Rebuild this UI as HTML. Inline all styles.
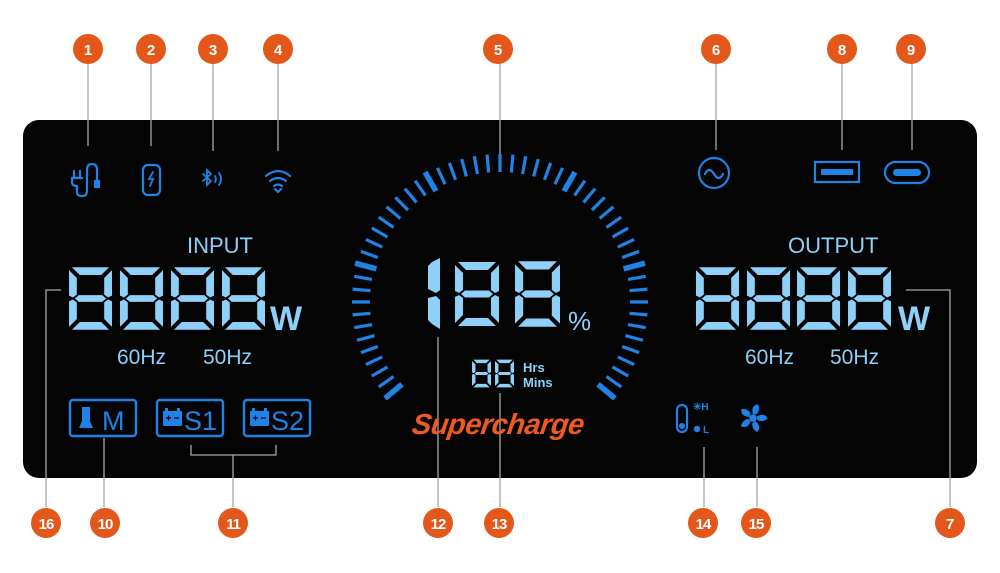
<!DOCTYPE html>
<html><head><meta charset="utf-8"><style>
html,body{margin:0;padding:0;background:#fff;}
svg{display:block}
text{font-family:"Liberation Sans",sans-serif;}
</style></head><body>
<svg width="1000" height="573" viewBox="0 0 1000 573" xmlns="http://www.w3.org/2000/svg">
<defs>
<symbol id="d8" viewBox="0 0 44 64">
<g fill="#8fd0f8">
<polygon points="3,0 41,0 33,8 11,8"/>
<polygon points="0,3 8,11 8,28 4,31 0,29"/>
<polygon points="44,3 36,11 36,28 40,31 44,29"/>
<polygon points="6,32 10,28.5 34,28.5 38,32 34,35.5 10,35.5"/>
<polygon points="0,35 4,33 8,36 8,53 0,61"/>
<polygon points="44,35 40,33 36,36 36,53 44,61"/>
<polygon points="3,64 41,64 33,56 11,56"/>
</g>
</symbol>
<line id="tk" x1="500" y1="154" x2="500" y2="172" stroke="#1f82e6" stroke-width="3.2"/>
<line id="tkb" x1="500" y1="152" x2="500" y2="174" stroke="#1f82e6" stroke-width="5.5"/>
</defs>

<rect x="23" y="120" width="954" height="358" rx="16" fill="#050404"/>

<g stroke="#a8a8a8" stroke-width="1.3" fill="none">
<line x1="88" y1="62" x2="88" y2="146"/>
<line x1="151" y1="62" x2="151" y2="146"/>
<line x1="213" y1="62" x2="213" y2="151"/>
<line x1="278" y1="62" x2="278" y2="151"/>
<line x1="500" y1="62" x2="500" y2="156"/>
<line x1="716" y1="62" x2="716" y2="150"/>
<line x1="842" y1="62" x2="842" y2="150"/>
<line x1="912" y1="62" x2="912" y2="150"/>
<polyline points="61,290 46,290 46,507"/>
<line x1="104" y1="438" x2="104" y2="507"/>
<polyline points="191,445 191,455 276,455 276,445"/>
<line x1="233" y1="455" x2="233" y2="507"/>
<line x1="438" y1="337" x2="438" y2="507"/>
<line x1="500" y1="393" x2="500" y2="507"/>
<line x1="704" y1="447" x2="704" y2="507"/>
<line x1="757" y1="447" x2="757" y2="507"/>
<polyline points="906,290 950,290 950,507"/>
</g>

<g fill="#e4571b">
<circle cx="88" cy="49" r="15"/><circle cx="151" cy="49" r="15"/><circle cx="213" cy="49" r="15"/><circle cx="278" cy="49" r="15"/>
<circle cx="498" cy="49" r="15"/><circle cx="716" cy="49" r="15"/><circle cx="842" cy="49" r="15"/><circle cx="911" cy="49" r="15"/>
<circle cx="46" cy="523" r="15"/><circle cx="105" cy="523" r="15"/><circle cx="233" cy="523" r="15"/><circle cx="438" cy="523" r="15"/>
<circle cx="499" cy="523" r="15"/><circle cx="703" cy="523" r="15"/><circle cx="756" cy="523" r="15"/><circle cx="950" cy="523" r="15"/>
</g>
<g fill="#fff" font-weight="bold" font-size="15" text-anchor="middle">
<text x="88" y="55">1</text><text x="151" y="55">2</text><text x="213" y="55">3</text><text x="278" y="55">4</text>
<text x="498" y="55">5</text><text x="716" y="55">6</text><text x="842" y="55">8</text><text x="911" y="55">9</text>
<text x="46" y="529" letter-spacing="-1">16</text><text x="105" y="529" letter-spacing="-1">10</text><text x="233" y="529" letter-spacing="-1">11</text><text x="438" y="529" letter-spacing="-1">12</text>
<text x="499" y="529" letter-spacing="-1">13</text><text x="703" y="529" letter-spacing="-1">14</text><text x="756" y="529" letter-spacing="-1">15</text><text x="950" y="529">7</text>
</g>

<g stroke="#1f82e6" stroke-width="2.2" fill="none" stroke-linecap="round">
<path d="M72,178 h10 M74,171 v6 M80,171 v6 M72,178 v4 q0,4 5,4 M77,186 v6 q0,4 4,4 h2 q4,0 4,-6 v-20 q0,-6 5,-6 q5,0 5,6 v10"/>
<rect x="95" y="181" width="4" height="6" fill="#1f82e6"/>
<rect x="143" y="165" width="17" height="30" rx="5"/>
<path d="M153,172 l-4,7 h4 l-3,7" stroke-width="1.8"/>
<path d="M203,174 l8,7 -4,4 v-15 l4,4 -8,7" stroke-width="1.8"/>
<path d="M215,176 q2,3 0,6 M219,173 q4,6 0,12" stroke-width="1.8"/>
<path d="M266,176 q12,-10 24,0 M270,181 q8,-6 16,0 M274,186 q4,-3 8,0"/>
<path d="M275,189 l3,3 3,-3"/>
<circle cx="714" cy="173" r="15"/>
<path d="M705,174 q4,-8 9,0 q5,8 9,0"/>
<rect x="815" y="162" width="44" height="20"/>
<rect x="821" y="169" width="32" height="6" fill="#1f82e6" stroke="none"/>
<rect x="885" y="162" width="44" height="21" rx="10.5"/>
<rect x="893" y="169" width="28" height="7" rx="3.5" fill="#1f82e6" stroke="none"/>
</g>

<g>
<use href="#tkb" transform="rotate(-130 500 302)"/><use href="#tk" transform="rotate(-125 500 302)"/><use href="#tk" transform="rotate(-120 500 302)"/><use href="#tk" transform="rotate(-115 500 302)"/><use href="#tk" transform="rotate(-110 500 302)"/><use href="#tk" transform="rotate(-105 500 302)"/><use href="#tk" transform="rotate(-100 500 302)"/><use href="#tk" transform="rotate(-95 500 302)"/><use href="#tk" transform="rotate(-90 500 302)"/><use href="#tk" transform="rotate(-85 500 302)"/><use href="#tk" transform="rotate(-80 500 302)"/><use href="#tkb" transform="rotate(-75 500 302)"/><use href="#tk" transform="rotate(-70 500 302)"/><use href="#tk" transform="rotate(-65 500 302)"/><use href="#tk" transform="rotate(-60 500 302)"/><use href="#tk" transform="rotate(-55 500 302)"/><use href="#tk" transform="rotate(-50 500 302)"/><use href="#tk" transform="rotate(-45 500 302)"/><use href="#tk" transform="rotate(-40 500 302)"/><use href="#tk" transform="rotate(-35 500 302)"/><use href="#tkb" transform="rotate(-30 500 302)"/><use href="#tk" transform="rotate(-25 500 302)"/><use href="#tk" transform="rotate(-20 500 302)"/><use href="#tk" transform="rotate(-15 500 302)"/><use href="#tk" transform="rotate(-10 500 302)"/><use href="#tk" transform="rotate(-5 500 302)"/><use href="#tk" transform="rotate(0 500 302)"/>
<use href="#tk" transform="rotate(5 500 302)"/><use href="#tk" transform="rotate(10 500 302)"/><use href="#tk" transform="rotate(15 500 302)"/><use href="#tk" transform="rotate(20 500 302)"/><use href="#tk" transform="rotate(25 500 302)"/><use href="#tkb" transform="rotate(30 500 302)"/><use href="#tk" transform="rotate(35 500 302)"/><use href="#tk" transform="rotate(40 500 302)"/><use href="#tk" transform="rotate(45 500 302)"/><use href="#tk" transform="rotate(50 500 302)"/><use href="#tk" transform="rotate(55 500 302)"/><use href="#tk" transform="rotate(60 500 302)"/><use href="#tk" transform="rotate(65 500 302)"/><use href="#tk" transform="rotate(70 500 302)"/><use href="#tkb" transform="rotate(75 500 302)"/><use href="#tk" transform="rotate(80 500 302)"/><use href="#tk" transform="rotate(85 500 302)"/><use href="#tk" transform="rotate(90 500 302)"/><use href="#tk" transform="rotate(95 500 302)"/><use href="#tk" transform="rotate(100 500 302)"/><use href="#tk" transform="rotate(105 500 302)"/><use href="#tk" transform="rotate(110 500 302)"/><use href="#tk" transform="rotate(115 500 302)"/><use href="#tk" transform="rotate(120 500 302)"/><use href="#tk" transform="rotate(125 500 302)"/><use href="#tkb" transform="rotate(130 500 302)"/>
</g>

<text x="187" y="253" fill="#8fd0f8" font-size="22">INPUT</text>
<use href="#d8" x="69" y="267" width="43" height="63"/>
<use href="#d8" x="120" y="267" width="43" height="63"/>
<use href="#d8" x="171" y="267" width="43" height="63"/>
<use href="#d8" x="222" y="267" width="43" height="63"/>
<text x="270" y="330" fill="#8fd0f8" font-size="34" font-weight="bold">W</text>
<text x="117" y="364" fill="#8fd0f8" font-size="21">60Hz</text>
<text x="203" y="364" fill="#8fd0f8" font-size="21">50Hz</text>

<text x="788" y="253" fill="#8fd0f8" font-size="22">OUTPUT</text>
<use href="#d8" x="696" y="267" width="43" height="63"/>
<use href="#d8" x="747" y="267" width="43" height="63"/>
<use href="#d8" x="797" y="267" width="43" height="63"/>
<use href="#d8" x="848" y="267" width="43" height="63"/>
<text x="898" y="330" fill="#8fd0f8" font-size="34" font-weight="bold">W</text>
<text x="745" y="364" fill="#8fd0f8" font-size="21">60Hz</text>
<text x="830" y="364" fill="#8fd0f8" font-size="21">50Hz</text>

<g fill="#8fd0f8">
<polygon points="432,262 440,258 440,290 436,293 428,289 428,266"/>
<polygon points="428,298 436,296 440,300 440,329 432,324 428,320"/>
</g>
<use href="#d8" x="455" y="258" width="44" height="72"/>
<use href="#d8" x="515" y="258" width="45" height="72"/>
<text x="568" y="330" fill="#8fd0f8" font-size="26">%</text>
<use href="#d8" x="472" y="359" width="19" height="29"/>
<use href="#d8" x="495" y="359" width="19" height="29"/>
<text x="523" y="372" fill="#8fd0f8" font-size="13" font-weight="bold">Hrs</text>
<text x="523" y="387" fill="#8fd0f8" font-size="13" font-weight="bold">Mins</text>
<text x="411" y="434" fill="#ef5a22" font-size="29" font-weight="bold" font-style="italic" transform="skewX(-8) translate(61,0)" letter-spacing="-0.5">Supercharge</text>

<g stroke="#1f82e6" stroke-width="2.4" fill="none">
<rect x="70" y="400" width="66" height="36" rx="3"/>
<rect x="157" y="400" width="66" height="36" rx="3"/>
<rect x="244" y="400" width="66" height="36" rx="3"/>
</g>
<g fill="#1f82e6">
<path d="M82,407 h8 v14 l3,7 h-14 l3,-7z"/>
<rect x="163" y="411" width="19" height="15" rx="1"/>
<rect x="165" y="408" width="3" height="3"/><rect x="177" y="408" width="3" height="3"/>
<rect x="250" y="411" width="19" height="15" rx="1"/>
<rect x="252" y="408" width="3" height="3"/><rect x="264" y="408" width="3" height="3"/>
</g>
<g stroke="#050404" stroke-width="1.2">
<path d="M166,418 h5 M168.5,415.5 v5 M174,418 h5"/>
<path d="M253,418 h5 M255.5,415.5 v5 M261,418 h5"/>
</g>
<text x="102" y="430" fill="#1f82e6" font-size="27">M</text>
<text x="184" y="430" fill="#1f82e6" font-size="27">S1</text>
<text x="271" y="430" fill="#1f82e6" font-size="27">S2</text>

<rect x="677" y="405" width="10" height="27" rx="5" stroke="#1f82e6" stroke-width="2.2" fill="none"/>
<circle cx="682" cy="426" r="3" fill="#1f82e6"/>
<text x="693" y="410" fill="#1f82e6" font-size="10" font-weight="bold">✳H</text>
<circle cx="697" cy="429" r="3.2" fill="#1f82e6"/>
<text x="703" y="433" fill="#1f82e6" font-size="10" font-weight="bold">L</text>
<g fill="#1f82e6" transform="translate(753,418) scale(1.25)">
<circle r="3"/>
<path d="M0,-3 q-2,-7 4,-8 q2,4 -1,8z"/>
<path d="M0,-3 q-2,-7 4,-8 q2,4 -1,8z" transform="rotate(72)"/>
<path d="M0,-3 q-2,-7 4,-8 q2,4 -1,8z" transform="rotate(144)"/>
<path d="M0,-3 q-2,-7 4,-8 q2,4 -1,8z" transform="rotate(216)"/>
<path d="M0,-3 q-2,-7 4,-8 q2,4 -1,8z" transform="rotate(288)"/>
</g>
</svg>
</body></html>
